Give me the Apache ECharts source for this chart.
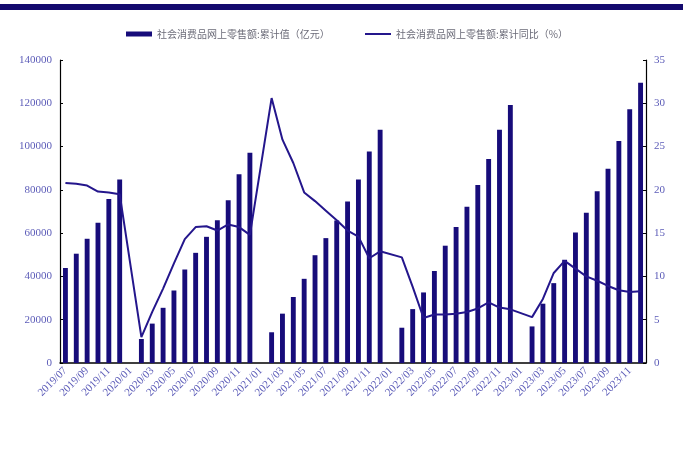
<!DOCTYPE html>
<html>
<head>
<meta charset="utf-8">
<script src="https://cdn.jsdelivr.net/npm/echarts@6/dist/echarts.min.js"></script>
<style>html,body{margin:0;padding:0;background:#fff;}#c{width:683px;height:465px;}</style>
</head>
<body>
<div id="c"></div>
<script>
const categories = [
  '2019/07','2019/08','2019/09','2019/10','2019/11','2019/12',
  '2020/01','2020/02','2020/03','2020/04','2020/05','2020/06','2020/07','2020/08','2020/09','2020/10','2020/11','2020/12',
  '2021/01','2021/02','2021/03','2021/04','2021/05','2021/06','2021/07','2021/08','2021/09','2021/10','2021/11','2021/12',
  '2022/01','2022/02','2022/03','2022/04','2022/05','2022/06','2022/07','2022/08','2022/09','2022/10','2022/11','2022/12',
  '2023/01','2023/02','2023/03','2023/04','2023/05','2023/06','2023/07','2023/08','2023/09','2023/10','2023/11','2023/12'
];
const cumValue = [
  43900, 50500, 57400, 64800, 75800, 84800,
  null, 11100, 18200, 25500, 33500, 43200, 50900, 58300, 66000, 75200, 87200, 97100,
  null, 14200, 22800, 30500, 38900, 49800, 57700, 65800, 74600, 84800, 97700, 107800,
  null, 16300, 24900, 32600, 42500, 54200, 62800, 72200, 82200, 94200, 107800, 119200,
  null, 16900, 27400, 36900, 47700, 60300, 69400, 79400, 89800, 102600, 117200, 129500
];
const cumYoY = [
  20.8, 20.7, 20.5, 19.8, 19.7, 19.5,
  null, 3.0, 5.9, 8.6, 11.5, 14.3, 15.7, 15.8, 15.3, 16.0, 15.7, 14.8,
  null, 30.6, 25.8, 23.1, 19.7, 18.7, 17.6, 16.5, 15.3, 14.6, 12.1, 12.9,
  null, 12.2, 8.8, 5.2, 5.6, 5.6, 5.7, 5.9, 6.3, 7.0, 6.4, 6.2,
  null, 5.3, 7.4, 10.4, 11.8, 10.9, 10.0, 9.5, 8.9, 8.4, 8.2, 8.3
];
const seriesNames = ['社会消费品网上零售额:累计值（亿元）', '社会消费品网上零售额:累计同比（%）'];

const labelColor = '#5c5cb8';
const markColor = '#170c7a';
const lineColor = '#24168c';
const legendText = { fontFamily: 'Noto Sans CJK SC', fontSize: 10, color: '#6b6b78' };
const chart = echarts.init(document.getElementById('c'));
chart.setOption({
  animation: false,
  graphic: [{ type: 'rect', left: 0, top: 4, shape: { width: 683, height: 6 }, style: { fill: '#140a6e' } }],
  legend: [{
    top: 24, left: 121, itemWidth: 26, itemHeight: 5, itemGap: 4,
    textStyle: legendText,
    data: [{ name: seriesNames[0], icon: 'rect' }]
  }, {
    top: 24, left: 360, itemWidth: 26, itemHeight: 2, itemGap: 4,
    textStyle: legendText,
    data: [{ name: seriesNames[1], icon: 'rect', itemStyle: { color: lineColor } }]
  }],
  grid: { left: 60, right: 37, top: 60, bottom: 102 },
  xAxis: {
    type: 'category', data: categories, boundaryGap: true,
    axisLine: { lineStyle: { color: '#000', width: 1.5 } },
    axisTick: { inside: true, interval: 1, length: 3, lineStyle: { color: '#000' } },
    axisLabel: { interval: 1, rotate: 45, color: labelColor, fontFamily: 'Liberation Serif', fontSize: 11, margin: 6 }
  },
  yAxis: [{
    type: 'value', min: 0, max: 140000, interval: 20000,
    axisLine: { show: true, lineStyle: { color: '#000', width: 1.2 } },
    axisTick: { show: true, inside: true, length: 3, lineStyle: { color: '#000' } },
    splitLine: { show: false },
    axisLabel: { color: labelColor, fontFamily: 'Liberation Serif', fontSize: 11, margin: 8, formatter: v => String(v) }
  }, {
    type: 'value', min: 0, max: 35, interval: 5,
    axisLine: { show: true, lineStyle: { color: '#000', width: 1.2 } },
    axisTick: { show: true, inside: true, length: 3, lineStyle: { color: '#000' } },
    splitLine: { show: false },
    axisLabel: { color: labelColor, fontFamily: 'Liberation Serif', fontSize: 11, margin: 8, formatter: v => String(v) }
  }],
  series: [{
    name: seriesNames[0], type: 'bar', data: cumValue, barWidth: '45%',
    itemStyle: { color: markColor }
  }, {
    name: seriesNames[1], type: 'line', yAxisIndex: 1, data: cumYoY,
    connectNulls: true, symbol: 'none', lineStyle: { color: lineColor, width: 2 },
    itemStyle: { color: lineColor }
  }]
});
</script>
</body>
</html>
